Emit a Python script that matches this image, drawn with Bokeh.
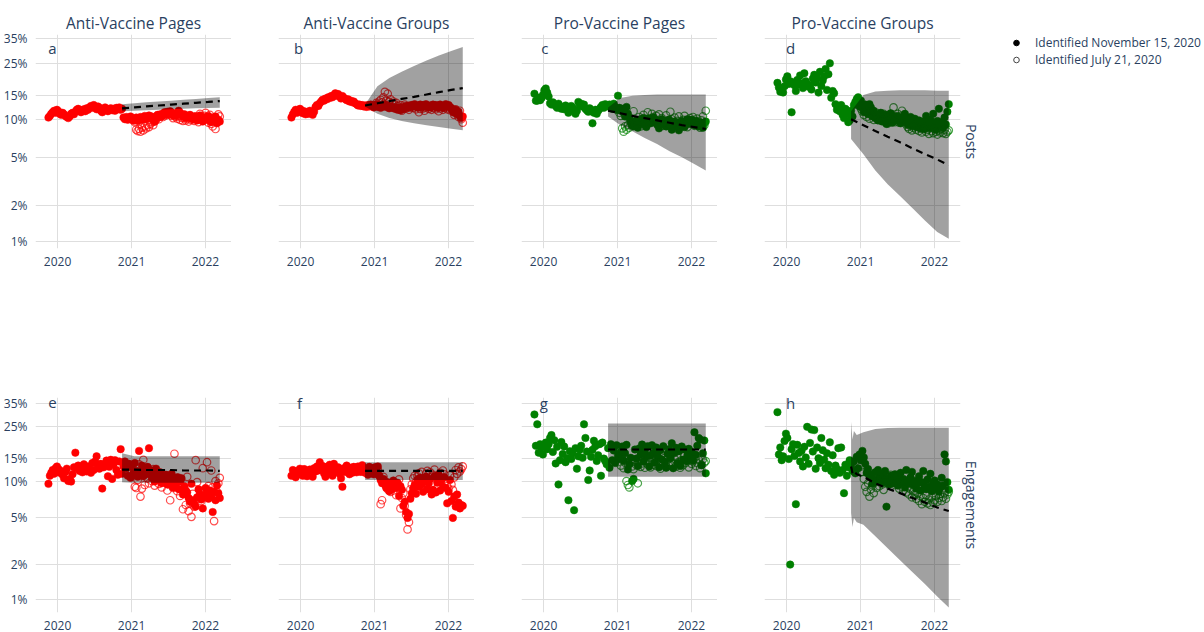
import numpy as np
from datetime import datetime
from bokeh.plotting import figure
from bokeh.layouts import row, column
from bokeh.models import (Range1d, FixedTicker, CustomJSTickFormatter, Label, Title,
                          Legend, LegendItem)
from bokeh.embed import file_html
from bokeh.resources import INLINE

FONT = "Open Sans"
TXT = "#2a3f5f"

panel_titles = ["Anti-Vaccine Pages", "Anti-Vaccine Groups", "Pro-Vaccine Pages", "Pro-Vaccine Groups"]
row_titles = ["Posts", "Engagements"]
panel_letters = ["a", "b", "c", "d", "e", "f", "g", "h"]
legend_labels = ["Identified November 15, 2020", "Identified July 21, 2020"]
y_tick_pct = [1, 2, 5, 10, 15, 25, 35]
x_tick_years = [2020, 2021, 2022]

first_week = "2019-11-17"       # weekly series (filled markers)
open_first_week = "2021-01-03"  # weekly series (open markers)

band_dates = ["2020-11-15", "2021-01-15", "2021-03-15", "2021-05-15", "2021-07-15",
              "2021-09-15", "2021-11-15", "2022-01-15", "2022-03-13"]
h_band_dates = ["2020-11-15", "2020-11-22", "2020-11-29", "2020-12-13", "2021-01-15", "2021-03-15",
                "2021-05-15", "2021-07-15", "2021-09-15", "2021-11-15", "2022-01-15", "2022-03-13"]

# ---------------- a: Anti-Vaccine Pages / Posts ----------------
a_filled = [10.3, 10.6, 11.0, 11.3, 11.6, 11.2, 11.8,
            11.5, 11.0, 10.8, 11.2, 10.9, 10.6, 10.4, 10.2, 10.5, 11.0, 11.2, 10.9, 11.4,
            11.8, 12.0, 11.6, 11.3, 11.7, 11.9, 11.5, 12.1, 11.8, 12.3, 12.6, 12.2, 12.8,
            12.4, 11.9, 12.5, 12.2, 11.6, 11.3, 12.0, 12.3, 11.8, 11.5, 11.9, 12.1, 11.7,
            12.0, 11.6, 12.2, 11.9, 12.3, 11.8,
            12.0, 10.3, 10.0, 10.4, 9.9, 10.2, 10.5,
            10.1, 9.8, 10.0, 10.3, 9.7, 10.1, 10.4, 9.9, 10.2, 10.6, 10.0, 10.3, 10.7,
            10.2, 10.5, 10.0, 9.6, 10.3, 10.8, 10.4, 10.9, 10.5, 11.0, 11.3, 10.8, 11.4,
            11.0, 11.5, 11.2, 10.7, 11.1, 10.6, 10.9, 11.6, 11.2, 10.8, 10.5, 10.9, 10.3,
            10.6, 10.2, 10.8, 10.4, 10.0, 10.5, 10.1, 9.8, 10.3, 10.7, 10.2, 9.6, 10.0,
            10.4, 9.9, 10.6, 10.1, 9.5, 10.2, 9.8, 10.5, 9.3, 9.9, 9.6]
a_open = [10.0, 9.8, 9.5, 8.3, 8.1, 8.4, 8.0, 8.6, 8.2, 8.8, 8.5, 9.0, 8.7,
          9.2, 9.5, 9.0, 9.6, 9.9, 10.3, 10.0, 10.5, 10.8, 10.4, 11.0, 10.7, 11.2,
          10.9, 11.3, 10.6, 10.2, 10.8, 10.4, 10.1, 10.6, 9.9, 10.3, 9.7, 10.2, 9.8,
          10.1, 9.6, 10.4, 9.9, 10.2, 9.7, 10.5, 10.0, 9.5, 11.0, 10.4, 9.9, 10.6,
          11.2, 10.0, 9.4, 10.8, 9.2, 8.8, 10.3, 8.4, 9.7, 10.9, 10.5]
a_band_lo = [11.5, 11.6, 11.7, 11.8, 11.9, 12.0, 12.1, 12.15, 12.2]
a_band_hi = [13.0, 13.2, 13.4, 13.6, 13.8, 14.0, 14.2, 14.4, 14.6]
a_band_mid = [12.1, 12.3, 12.5, 12.7, 12.9, 13.1, 13.3, 13.5, 13.7]

# ---------------- b: Anti-Vaccine Groups / Posts ----------------
b_filled = [10.3, 10.9, 11.4, 11.8, 11.2, 11.6, 12.0,
            11.7, 11.1, 11.5, 10.9, 11.3, 11.0, 11.6, 11.2, 10.8, 11.4, 12.4, 12.8, 12.6,
            13.2, 13.6, 14.0, 13.8, 14.3, 14.1, 14.6, 14.4, 14.9, 14.6, 15.2, 15.6, 15.0,
            15.4, 14.8, 14.3, 14.9, 14.5, 14.2, 13.9, 14.1, 13.6, 13.8, 13.4, 13.6, 13.2,
            13.0, 12.7, 12.9, 12.6, 12.8, 12.5,
            12.7, 12.4, 12.8, 12.5, 12.9, 12.6, 12.3,
            12.6, 12.9, 12.4, 12.7, 12.2, 12.8, 12.5, 12.9, 12.4, 12.6, 12.1, 12.5, 12.2,
            12.4, 12.0, 12.3, 11.8, 12.1, 11.7, 12.2, 11.9, 12.4, 12.6, 12.2, 12.7, 12.4,
            12.8, 12.5, 13.0, 12.6, 12.3, 12.7, 12.9, 12.4, 12.8, 12.5, 13.0, 12.6, 12.3,
            12.7, 12.4, 12.9, 12.5, 12.8, 12.3, 12.6, 12.9, 12.5, 12.2, 12.7, 13.0, 12.6,
            12.8, 12.4, 12.1, 11.6, 11.2, 11.8, 10.9, 11.4, 10.6, 10.2, 10.5]
b_open = [12.8, 13.3, 12.9, 13.6, 14.0, 13.4, 14.6, 16.0, 13.8, 15.5, 13.5, 14.1, 13.2,
          13.6, 12.9, 13.3, 12.6, 12.2, 12.8, 11.6, 12.4, 12.9, 12.1, 12.5, 11.8, 12.3,
          12.7, 12.2, 12.6, 11.9, 12.4, 11.3, 12.0, 12.5, 12.1, 11.6, 12.3, 12.7, 12.0,
          12.4, 11.8, 12.2, 12.6, 11.9, 12.3, 11.5, 12.1, 12.5, 11.8, 12.2, 12.6, 11.9,
          12.3, 11.7, 12.0, 11.4, 10.8, 11.9, 11.2, 10.4, 11.6, 10.0, 9.4]
b_band_lo = [12.5, 11.0, 10.2, 9.7, 9.3, 9.0, 8.7, 8.45, 8.2]
b_band_hi = [12.9, 17.5, 20.0, 22.0, 24.0, 26.0, 28.0, 29.8, 31.5]
b_band_mid = [12.7, 13.2, 13.7, 14.2, 14.7, 15.3, 15.9, 16.5, 17.0]

# ---------------- c: Pro-Vaccine Pages / Posts ----------------
c_filled = [15.5, 13.8, 13.8, 14.5, 13.9, 14.4, 15.2,
            16.4, 16.9, 15.8, 14.8, 13.2, 12.9, 13.4, 13.0, 12.6, 12.2, 13.1, 12.5, 12.0,
            12.4, 11.9, 12.7, 12.3, 11.2, 12.0, 12.6, 12.2, 11.8, 11.0, 11.6, 13.5, 12.8,
            13.1, 12.5, 12.9, 12.0, 11.7, 11.4, 12.1, 11.5, 9.3, 11.2, 11.8, 11.0, 11.6,
            12.0, 12.4, 12.8, 12.2, 13.0, 12.6,
            12.5, 12.9, 12.3, 12.0, 13.1, 12.4, 11.8,
            15.0, 12.2, 11.6, 12.0, 11.2, 10.5, 12.4, 11.0, 10.2, 9.6, 9.0, 8.8, 9.4,
            9.8, 8.6, 9.2, 10.0, 9.5, 10.2, 9.1, 8.7, 9.6, 10.1, 9.3, 9.8, 10.3,
            9.4, 9.9, 9.0, 8.5, 9.7, 10.0, 9.2, 9.6, 8.8, 9.3, 9.9, 9.5, 8.3,
            9.1, 9.6, 8.9, 9.4, 8.2, 9.0, 9.7, 9.3, 8.7, 9.5, 10.0, 9.2, 9.6,
            9.9, 9.4, 9.0, 9.7, 9.2, 8.8, 9.5, 9.1, 8.6, 9.3, 9.6]
c_open = [11.8, 11.2, 10.6, 8.5, 8.0, 8.8, 8.3, 9.0, 8.6, 9.4, 10.0, 11.5, 9.2,
          8.9, 9.6, 10.4, 8.8, 9.3, 10.8, 9.0, 9.7, 11.3, 10.1, 9.5, 11.0, 10.4,
          9.8, 10.6, 9.2, 10.9, 9.6, 10.2, 8.9, 9.5, 10.7, 9.1, 9.9, 11.4, 10.0,
          9.4, 10.3, 9.0, 9.7, 10.5, 9.2, 8.8, 9.9, 10.6, 9.3, 8.7, 9.8, 10.2,
          9.5, 10.4, 8.9, 9.7, 10.1, 9.2, 8.6, 9.8, 10.5, 9.0, 11.6]
c_band_lo = [10.5, 9.0, 8.05, 7.15, 6.4, 5.6, 5.0, 4.4, 3.9]
c_band_hi = [12.3, 14.4, 15.0, 15.2, 15.3, 15.3, 15.3, 15.3, 15.3]
c_band_mid = [11.6, 11.1, 10.6, 10.2, 9.8, 9.4, 9.0, 8.7, 8.4]

# ---------------- d: Pro-Vaccine Groups / Posts ----------------
d_filled = [18.5, 17.2, 16.0, 16.8, 15.8, 17.5, 19.5,
            20.5, 18.2, 19.0, 11.3, 18.6, 17.8, 16.2, 19.4, 18.0, 20.8, 18.4, 17.0, 21.5,
            19.0, 18.1, 17.4, 17.8, 16.6, 19.8, 21.0, 18.6, 20.2, 15.8, 22.0, 17.6, 19.2,
            20.5, 23.0, 16.5, 21.2, 25.0, 14.5, 16.2, 15.6, 13.0, 11.8, 12.4, 11.5, 12.8,
            10.8, 10.2, 12.0, 11.0, 9.5, 9.8,
            11.6, 10.5, 12.8, 13.5, 14.2, 14.6, 12.5,
            13.8, 12.2, 11.4, 12.9, 11.8, 11.0, 13.0, 12.3, 10.6, 11.6, 10.2, 10.9, 9.8,
            10.5, 11.2, 9.6, 10.1, 10.8, 9.2, 9.9, 10.5, 11.1, 9.4, 10.3, 9.7, 10.6,
            9.9, 10.4, 9.3, 10.0, 9.6, 11.0, 10.2, 9.1, 9.7, 10.4, 8.9, 9.5, 10.1,
            8.7, 9.3, 9.8, 8.5, 9.0, 9.6, 8.4, 10.6, 9.2, 8.6, 9.9, 8.8, 11.0,
            9.4, 8.3, 9.7, 12.0, 8.9, 9.5, 8.6, 10.3, 9.1, 11.4, 13.0]
d_open = [12.0, 11.4, 10.8, 11.5, 10.4, 11.0, 10.1, 11.8, 10.6, 9.9, 10.5, 11.2, 10.0,
          10.7, 9.8, 10.4, 11.0, 9.6, 10.2, 9.3, 10.8, 9.9, 10.5, 12.3, 9.5, 10.1,
          11.0, 9.4, 10.6, 11.6, 9.8, 10.3, 9.1, 8.7, 8.4, 8.9, 8.2, 8.6, 9.0,
          8.3, 8.8, 8.1, 8.5, 7.9, 8.4, 8.7, 8.0, 8.3, 7.7, 8.6, 8.1, 7.8,
          8.4, 8.0, 7.6, 8.2, 7.9, 8.5, 7.8, 8.3, 7.7, 8.0, 8.2]
d_band_lo = [7.0, 5.3, 3.9, 3.0, 2.4, 1.9, 1.5, 1.2, 1.05]
d_band_hi = [11.5, 15.2, 16.1, 16.3, 16.4, 16.4, 16.4, 16.3, 16.3]
d_band_mid = [10.0, 9.0, 8.1, 7.3, 6.6, 5.9, 5.3, 4.8, 4.3]

# ---------------- e: Anti-Vaccine Pages / Engagements ----------------
e_filled = [9.5, 11.0, 11.6, 12.2, 11.4, 12.6, 13.0,
            12.4, 11.6, 12.0, 11.2, 10.5, 11.8, 12.5, 10.0, 10.4, 9.9, 11.3, 12.8, 16.5,
            12.6, 13.2, 12.0, 12.9, 11.7, 13.5, 12.3, 11.9, 13.0, 12.4, 11.6, 13.8, 12.2,
            14.2, 15.5, 13.0, 12.5, 13.6, 8.7, 12.8, 13.4, 14.4, 10.9, 12.9, 14.6, 10.4,
            13.5, 14.5, 12.2, 11.2, 14.2, 17.5,
            11.4, 13.0, 14.2, 12.6, 11.0, 13.6, 10.6,
            12.8, 11.5, 13.8, 12.0, 10.8, 17.0, 11.9, 13.2, 10.9, 12.4, 11.3, 12.9, 17.8,
            12.2, 10.6, 11.8, 9.9, 12.5, 11.0, 10.3, 11.7, 9.6, 10.8, 10.1, 11.2, 9.4,
            10.6, 9.8, 11.4, 8.9, 10.2, 9.3, 10.7, 8.6, 9.9, 10.5, 7.8, 9.1, 8.4,
            8.1, 7.3, 6.8, 9.5, 7.0, 6.5, 6.2, 7.4, 8.6, 7.8, 7.1, 6.0, 7.6,
            8.8, 8.0, 7.2, 8.4, 7.5, 5.6, 8.2, 7.0, 9.2, 8.0, 7.3]
e_open = [12.0, 11.2, 9.0, 8.8, 10.2, 13.5, 7.5, 8.7, 14.6, 9.3, 12.2, 10.5, 9.6,
          11.8, 10.0, 12.4, 9.2, 10.7, 11.5, 9.5, 10.9, 8.9, 10.3, 9.8, 11.1, 8.4,
          9.4, 7.0, 10.1, 8.8, 16.2, 9.7, 8.3, 10.6, 7.6, 9.0, 5.9, 8.5, 6.4,
          10.8, 5.7, 6.6, 5.1, 7.9, 6.2, 14.5, 9.8, 7.2, 8.4, 6.9, 12.6, 7.7,
          8.6, 14.0, 9.1, 7.4, 12.1, 8.9, 4.7, 10.0, 8.2, 9.6, 10.6]
e_band_lo = [9.8, 9.7, 9.7, 9.7, 9.7, 9.7, 9.7, 9.7, 9.7]
e_band_hi = [16.3, 15.5, 15.5, 15.5, 15.5, 15.5, 15.5, 15.5, 15.5]
e_band_mid = [12.3, 12.3, 12.2, 12.2, 12.2, 12.1, 12.1, 12.1, 12.0]

# ---------------- f: Anti-Vaccine Groups / Engagements ----------------
f_filled = [11.0, 12.2, 11.5, 10.7, 12.0, 11.3, 12.5,
            11.8, 11.0, 12.4, 11.2, 10.9, 11.6, 12.3, 11.1, 10.8, 12.6, 11.9, 13.0, 12.1,
            14.0, 12.4, 13.1, 11.5, 10.8, 12.9, 11.7, 13.4, 12.2, 11.0, 13.6, 12.5, 11.9,
            12.8, 11.4, 10.5, 9.0, 12.6, 11.8, 13.2, 12.0, 11.3, 12.7, 11.6, 12.9, 12.3,
            11.7, 13.0, 12.4, 11.8, 13.3, 12.6,
            11.6, 12.4, 11.2, 12.9, 11.8, 12.5, 11.3,
            12.8, 11.5, 13.0, 11.0, 10.2, 9.6, 10.4, 9.4, 8.8, 9.8, 8.3, 9.2, 8.6,
            10.1, 9.3, 8.9, 9.7, 7.6, 9.1, 8.5, 6.3, 6.8, 5.6, 5.0, 5.4, 7.2,
            8.0, 8.7, 9.3, 7.9, 10.3, 9.0, 10.6, 9.4, 8.2, 10.0, 10.8, 8.6, 9.6,
            10.4, 7.8, 8.5, 10.9, 8.1, 9.7, 11.2, 8.4, 10.1, 9.0, 10.7, 8.8, 6.6,
            8.2, 10.2, 6.9, 5.0, 7.5, 6.2, 7.8, 6.7, 6.0, 6.4, 6.3]
f_open = [12.6, 11.9, 12.3, 11.0, 6.5, 7.0, 10.8, 9.9, 9.0, 8.6, 9.5, 8.2, 9.1,
          8.4, 9.6, 7.7, 8.9, 10.3, 6.0, 7.3, 8.0, 6.3, 5.3, 4.0, 4.6, 8.6,
          9.4, 10.5, 11.0, 9.8, 10.9, 11.5, 10.2, 11.8, 9.7, 10.6, 11.4, 12.0, 10.8,
          11.7, 9.6, 11.2, 12.3, 10.4, 11.0, 9.9, 11.6, 10.6, 12.1, 11.3, 10.0, 9.1,
          8.7, 11.1, 9.4, 8.5, 10.7, 12.2, 11.4, 12.8, 11.9, 12.4, 13.0]
f_band_lo = [10.2, 10.2, 10.2, 10.2, 10.2, 10.2, 10.2, 10.2, 10.2]
f_band_hi = [14.0, 14.0, 14.0, 14.0, 14.0, 14.0, 14.0, 14.0, 14.0]
f_band_mid = [12.0, 12.0, 12.0, 12.0, 12.0, 12.0, 12.0, 12.0, 12.0]

# ---------------- g: Pro-Vaccine Pages / Engagements ----------------
g_filled = [30.0, 18.5, 26.0, 16.5, 19.0, 18.0, 16.0,
            18.5, 19.5, 17.5, 19.0, 21.0, 22.0, 16.7, 20.3, 13.7, 18.2, 9.4, 14.5, 19.7,
            16.1, 18.3, 14.0, 15.0, 7.0, 16.9, 14.8, 16.3, 5.8, 17.8, 12.5, 15.5, 17.3,
            18.5, 15.1, 26.0, 21.0, 16.8, 10.2, 12.1, 15.4, 17.3, 20.1, 18.4, 14.3, 15.8,
            19.0, 11.0, 19.5, 14.9, 14.3, 13.5,
            17.8, 12.7, 19.0, 14.5, 17.1, 13.8, 18.7,
            15.7, 14.9, 16.7, 18.3, 14.4, 16.3, 18.8, 12.3, 13.5, 15.1, 10.0, 10.4, 17.4,
            14.9, 13.1, 17.7, 16.0, 18.9, 14.2, 17.1, 15.4, 18.4, 13.0, 15.8, 18.7, 16.5,
            13.9, 18.0, 15.5, 12.8, 17.2, 14.7, 18.4, 14.1, 12.7, 16.2, 17.5, 15.0, 19.3,
            12.6, 16.4, 17.9, 13.8, 16.9, 13.1, 18.3, 14.6, 17.4, 14.3, 15.7, 17.6, 15.2,
            16.7, 14.4, 23.0, 15.9, 18.5, 21.0, 20.5, 13.3, 16.3, 20.2, 11.5]
g_open = [14.0, 15.3, 13.2, 14.6, 12.6, 13.9, 10.0, 9.3, 8.9, 14.1, 13.0, 12.4, 14.5,
          13.3, 9.6, 14.2, 12.9, 13.7, 15.0, 12.7, 14.4, 13.5, 15.2, 12.8, 14.0, 13.4,
          14.6, 13.1, 15.4, 13.8, 12.5, 14.3, 13.6, 15.1, 12.9, 14.7, 13.2, 15.5, 14.0,
          13.5, 14.8, 13.0, 15.2, 14.1, 12.7, 14.5, 13.3, 15.6, 13.9, 14.4, 12.8, 14.9,
          13.6, 14.2, 15.0, 13.1, 13.8, 14.6, 12.6, 13.4, 14.7, 13.9, 14.3]
g_band_lo = [10.8, 10.8, 10.8, 10.8, 10.8, 10.8, 10.8, 10.8, 10.8]
g_band_hi = [26.3, 26.3, 26.3, 26.3, 26.3, 26.3, 26.3, 26.3, 26.3]
g_band_mid = [17.4, 17.4, 17.4, 17.4, 17.4, 17.4, 17.4, 17.4, 17.4]

# ---------------- h: Pro-Vaccine Groups / Engagements ----------------
h_filled = [31.0, 16.0, 18.0, 14.5, 15.5, 20.0, 22.5,
            21.0, 14.8, 2.0, 17.5, 19.0, 15.6, 6.5, 18.8, 16.4, 14.2, 17.0, 13.0, 18.2,
            15.2, 25.0, 13.6, 19.4, 24.0, 16.8, 23.8, 12.5, 18.0, 15.0, 13.8, 21.0, 17.2,
            14.6, 12.6, 16.3, 13.4, 19.6, 12.0, 15.8, 11.2, 13.2, 12.4, 17.8, 11.6, 18.0,
            12.2, 8.0, 13.4, 11.0, 12.8, 14.5,
            13.0, 12.0, 14.2, 11.5, 15.4, 12.6, 16.0,
            14.5, 17.0, 15.2, 13.6, 11.6, 12.4, 10.8, 11.2, 9.5, 10.3, 11.7, 9.9, 12.2,
            10.6, 11.4, 9.7, 10.9, 12.0, 6.2, 10.2, 9.4, 11.0, 10.5, 9.6, 11.3, 10.0,
            9.2, 10.8, 11.6, 9.8, 10.4, 8.9, 12.2, 10.1, 9.5, 10.7, 11.8, 9.3, 10.0,
            8.7, 9.6, 10.9, 8.4, 9.8, 12.0, 9.1, 8.6, 10.3, 9.0, 11.4, 8.3, 9.5,
            10.1, 8.8, 9.4, 8.2, 8.9, 10.6, 9.2, 16.0, 14.2, 9.8, 8.5]
h_open = [13.0, 11.8, 10.4, 9.0, 8.2, 9.6, 7.5, 8.6, 9.3, 8.0, 9.8, 8.8, 10.2,
          9.1, 10.6, 9.4, 8.5, 10.0, 11.0, 9.7, 10.4, 11.2, 9.9, 10.8, 9.3, 10.5,
          9.6, 8.7, 10.1, 9.0, 8.4, 9.5, 8.1, 8.9, 7.8, 8.6, 7.4, 8.3, 7.9,
          7.2, 8.0, 6.9, 7.6, 6.5, 7.3, 6.8, 7.7, 6.6, 7.1, 6.4, 7.5, 6.7,
          7.0, 7.6, 6.8, 7.3, 7.9, 6.9, 7.4, 8.0, 7.2, 7.8, 8.2]
h_band_lo = [5.5, 4.2, 5.0, 4.6, 4.37, 3.50, 2.76, 2.18, 1.72, 1.36, 1.06, 0.85]
h_band_hi = [27.0, 20.5, 23.5, 22.0, 23.0, 24.2, 24.6, 24.7, 24.7, 24.7, 24.7, 24.7]
h_band_mid = [13.0, 11.5, 12.0, 11.3, 10.8, 9.6, 8.7, 8.0, 7.3, 6.7, 6.1, 5.7]

letter_dates = ["2019-12-07", "2019-12-22", "2020-01-07", "2020-01-21",
                "2019-12-07", "2019-12-27", "2020-01-02", "2020-01-21"]

panels = [
    (a_filled, a_open, band_dates, a_band_lo, a_band_hi, a_band_mid, "red"),
    (b_filled, b_open, band_dates, b_band_lo, b_band_hi, b_band_mid, "red"),
    (c_filled, c_open, band_dates, c_band_lo, c_band_hi, c_band_mid, "green"),
    (d_filled, d_open, band_dates, d_band_lo, d_band_hi, d_band_mid, "green"),
    (e_filled, e_open, band_dates, e_band_lo, e_band_hi, e_band_mid, "red"),
    (f_filled, f_open, band_dates, f_band_lo, f_band_hi, f_band_mid, "red"),
    (g_filled, g_open, band_dates, g_band_lo, g_band_hi, g_band_mid, "green"),
    (h_filled, h_open, h_band_dates, h_band_lo, h_band_hi, h_band_mid, "green"),
]

EPOCH = datetime(1970, 1, 1)
DAY_MS = 86400000.0


def ms(s):
    return (datetime.strptime(s, "%Y-%m-%d") - EPOCH).total_seconds() * 1000.0


def logit(pct):
    p = np.asarray(pct, dtype=float) / 100.0
    return np.log(p / (1.0 - p))


def weekly(start, n):
    return ms(start) + 7 * DAY_MS * np.arange(n)


X_START, X_END = ms("2019-09-14"), ms("2022-05-10")
Y_RANGE_TOP = (-4.736, -0.533)
Y_RANGE_BOT = (-4.863, -0.503)
FRAME_W = 196


def make_panel(k):
    filled, opened, bdates, lo, hi, mid, color = panels[k]
    r, c = divmod(k, 4)
    left = 35 if c == 0 else 47
    right = 25 if c == 3 else 0
    if r == 0:
        mt, fh, mb, yr = 29, 219, 24, Y_RANGE_TOP
    else:
        mt, fh, mb, yr = 125, 218, 17, Y_RANGE_BOT
    p = figure(width=left + FRAME_W + right, height=mt + fh + mb,
               min_border_left=left, min_border_right=right,
               min_border_top=mt, min_border_bottom=mb,
               x_range=Range1d(X_START, X_END), y_range=Range1d(*yr),
               title=(panel_titles[c] if r == 0 else None),
               output_backend="svg", toolbar_location=None, tools="")
    if r == 0:
        p.title.align = "center"
        p.title.text_font = FONT
        p.title.text_font_size = "15.5px"
        p.title.text_font_style = "normal"
        p.title.text_color = TXT
        p.title.standoff = 1
    p.outline_line_color = None
    p.background_fill_color = "white"
    p.border_fill_color = "white"

    xt = FixedTicker(ticks=[ms(f"{y}-01-01") for y in x_tick_years])
    yt = FixedTicker(ticks=[float(v) for v in logit(y_tick_pct)])
    p.xaxis.ticker = xt
    p.yaxis.ticker = yt
    p.xgrid.ticker = xt
    p.ygrid.ticker = yt
    p.xaxis.formatter = CustomJSTickFormatter(code="return String(new Date(tick).getUTCFullYear());")
    p.yaxis.formatter = CustomJSTickFormatter(code="return Math.round(100/(1+Math.exp(-tick))) + '%';")
    for ax in p.axis:
        ax.axis_line_color = None
        ax.major_tick_line_color = None
        ax.minor_tick_line_color = None
        ax.major_label_text_font = FONT
        ax.major_label_text_font_size = "12px"
        ax.major_label_text_color = TXT
        ax.major_label_standoff = 2
    if c > 0:
        p.yaxis.visible = False
    p.grid.grid_line_color = "#dedede"
    p.grid.grid_line_width = 1

    p.scatter(weekly(first_week, len(filled)), logit(filled), size=7.5,
              fill_color=color, line_color=color, line_width=0.5)
    p.scatter(weekly(open_first_week, len(opened)), logit(opened), size=7.5,
              fill_color=None, line_color=color, line_width=1.2, line_alpha=0.7)
    bx = [ms(d) for d in bdates]
    p.varea(x=bx, y1=logit(lo), y2=logit(hi), fill_color="black", fill_alpha=0.37)
    p.line(bx, logit(mid), line_color="black", line_width=2.2, line_dash="7 5")

    ly = float(logit(31.0)) if r == 0 else float(logit(35.0))
    p.add_layout(Label(x=ms(letter_dates[k]), y=ly, text=panel_letters[k],
                       text_align="center", text_baseline="middle",
                       text_font=FONT, text_font_size="15px", text_color=TXT))
    if c == 3:
        p.add_layout(Title(text=row_titles[r], align="center", text_font=FONT,
                           text_font_size="14px", text_font_style="normal",
                           text_color=TXT, standoff=3), "right")
    return p


figs = [make_panel(k) for k in range(8)]

lf = figure(width=217, height=272, min_border_left=24, min_border_top=34,
            min_border_right=0, min_border_bottom=0,
            x_range=Range1d(0, 1), y_range=Range1d(0, 1),
            x_axis_location=None, y_axis_location=None,
            output_backend="svg", toolbar_location=None, tools="")
lf.grid.visible = False
lf.outline_line_color = None
# legend swatches only: one point each, placed outside the visible range
r1 = lf.scatter(x=[-5], y=[-5], size=6, fill_color="black", line_color="black")
r2 = lf.scatter(x=[-5], y=[-5], size=7, fill_color=None, line_color="#444444", line_width=1)
leg = Legend(items=[LegendItem(label=legend_labels[0], renderers=[r1]),
                    LegendItem(label=legend_labels[1], renderers=[r2])],
             location="top_left", margin=0, padding=0, spacing=0,
             glyph_width=14, glyph_height=17, label_height=17, label_standoff=12,
             label_text_font=FONT, label_text_font_size="12px", label_text_color=TXT,
             label_text_baseline="middle",
             border_line_alpha=0, background_fill_alpha=0)
lf.add_layout(leg)

layout = column(row(*figs[:4], lf), row(*figs[4:]))
open("out.html", "w").write(file_html(layout, INLINE))
